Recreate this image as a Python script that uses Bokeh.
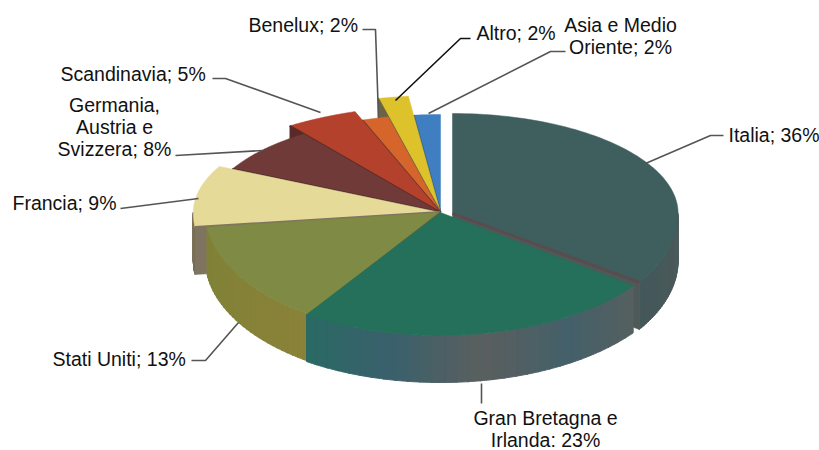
import numpy as np
from bokeh.plotting import figure
from bokeh.models import Range1d
from bokeh.core.properties import value
from bokeh.embed import file_html
from bokeh.resources import INLINE

# Data, clockwise from the top
categories = ["Italia", "Gran Bretagna e Irlanda", "Stati Uniti", "Francia",
              "Germania, Austria e Svizzera", "Scandinavia", "Benelux", "Altro",
              "Asia e Medio Oriente"]
shares = [36, 23, 13, 9, 8, 5, 2, 2, 2]
label_lines = [["Italia; 36%"], ["Gran Bretagna e", "Irlanda: 23%"], ["Stati Uniti; 13%"],
               ["Francia; 9%"], ["Germania,", "Austria e", "Svizzera; 8%"], ["Scandinavia; 5%"],
               ["Benelux; 2%"], ["Altro; 2%"], ["Asia e Medio", "Oriente; 2%"]]

# Styles
top_colors = ["#3E5F5E", "#24705A", "#7F8B45", "#E6DA98", "#6F3A38", "#B4412B", "#D6652C", "#DDC22B", "#3F7FC1"]
side_colors = [["#4E5A5A", "#44585A"], ["#55605F", "#44606A", "#5A5F5E", "#3A606C", "#2A6A64"],
               ["#8A8238", "#7F8238"], ["#7A7058", "#7A7058"], ["#4F2A2A", "#4F2A2A"], ["#6E2F26", "#6E2F26"],
               ["#6A3A2A", "#6A3A2A"], ["#6B6540", "#6B6540"], ["#2E5A85", "#2E5A85"]]
wall_colors = ["#4E5A5A", None, "#6E6040", "#7F7460", "#4A2A2A", "#5A2A28", "#5E3A30", "#6A6444", "#2E5A85"]
seam_colors = ["#5A4C4E", None, "#6E6040", "#7F7460", "#4A2A2A", "#5A2A28", "#5E3A30", "#6A6444", "#2E5A85"]
radius_x = [0.94, 1.0, 0.98, 1.03, 0.97, 1.07, 0.98, 1.17, 0.98]
radius_y = [1.0, 1.0, 1.0, 1.03, 0.97, 1.07, 0.98, 1.17, 0.98]
apex_x = [452, 440, 440, 440, 440, 440, 440, 440, 440]
apex_y = [213, 212, 212, 212, 212, 212, 212, 212, 212]
end_trim = [2.5, 0, 0, 0, 0, 0, 0, 0, 0]
draw_order = [8, 7, 6, 5, 4, 3, 2, 0, 1]
A, B_BACK, B_FRONT, DEPTH = 240, 100, 123, 47
warp_at = [0, 130, 212, 260, 292, 320, 338, 346, 353, 360]
warp_by = [0, -3, 1.5, 4, 5, 3.7, 2.2, 1.5, 0.6, 0]
STRIPS = 30

label_x = [728, 545, 52, 12, 114, 60, 248, 476, 620]
label_y = [134, 417, 358, 202, 104, 73, 24, 32, 24]
label_align = ["left", "center", "left", "left", "center", "left", "left", "left", "center"]
line_h = 22
leaders_x = [[645, 710, 723], [481, 481], [191, 205, 238], [120, 198], [175, 262], [212, 225, 320],
             [362, 375, 378], [470, 460, 395], [565, 550, 428]]
leaders_y = [[163, 135, 135], [383, 403], [360, 360, 322], [208, 198], [155, 150], [78, 78, 112],
             [29, 29, 117], [38, 38, 100], [51, 51, 113]]
leader_colors = ["#555555", "#555555", "#555555", "#555555", "#555555", "#555555", "#555555", "#111111", "#555555"]

p = figure(width=819, height=450, x_range=Range1d(0, 819), y_range=Range1d(450, 0),
           output_backend="svg", toolbar_location=None, min_border=0,
           background_fill_color="white", border_fill_color="white", outline_line_color=None)
p.xaxis.visible = False
p.yaxis.visible = False
p.grid.visible = False


def warp(t):
    return t + np.interp(t, warp_at, warp_by)


def rim(i, t):
    r = np.radians(t)
    c = np.cos(r)
    b = np.where(c >= 0, B_BACK, B_FRONT)
    return apex_x[i] + A * radius_x[i] * np.sin(r), apex_y[i] - b * radius_y[i] * c


def shade(stops, f):
    rgb = np.array([[int(s[j:j + 2], 16) for j in (1, 3, 5)] for s in stops], float)
    pos = np.linspace(0, 1, len(stops))
    return "#%02x%02x%02x" % tuple(int(round(np.interp(f, pos, rgb[:, c]))) for c in range(3))


cum = np.cumsum([0] + shares) * 3.6
for i in draw_order:
    t0, t1 = float(warp(cum[i])), float(warp(cum[i + 1])) - end_trim[i]
    s0, s1 = max(t0, 90), min(t1, 270)
    if s1 > s0:
        edges = np.linspace(s0, s1, STRIPS + 1)
        for k in range(STRIPS):
            c = shade(side_colors[i], (k + 0.5) / STRIPS)
            tt = np.linspace(edges[k], edges[k + 1] + (0.3 if k < STRIPS - 1 else 0), 8)
            x, y = rim(i, tt)
            p.patch(np.r_[x, x[::-1]], np.r_[y, y[::-1] + DEPTH], fill_color=c, line_color=c, line_width=1)
    t_edge = t1 if i == 0 else t0
    ex, ey = rim(i, np.array([t_edge]))
    if wall_colors[i]:
        p.patch([apex_x[i], ex[0], ex[0], apex_x[i]], [apex_y[i], ey[0], ey[0] + DEPTH, apex_y[i] + DEPTH],
                fill_color=wall_colors[i], line_color=wall_colors[i], line_width=0.5)
    tt = np.linspace(t0, t1, 80)
    x, y = rim(i, tt)
    p.patch(np.r_[apex_x[i], x], np.r_[apex_y[i], y], fill_color=top_colors[i], line_color=top_colors[i], line_width=0.5)
    if seam_colors[i]:
        p.line([apex_x[i], ex[0]], [apex_y[i], ey[0]], line_color=seam_colors[i], line_width=3 if i in (0, 3) else 2)

for xs, ys, c in zip(leaders_x, leaders_y, leader_colors):
    p.line(xs, ys, line_color=c, line_width=1.6)

for lines, x, y, al in zip(label_lines, label_x, label_y, label_align):
    for j, s in enumerate(lines):
        p.text([x], [y + j * line_h], text=[s], text_font=value("Liberation Sans"), text_font_size="19.5px",
               text_color="#111111", text_align=al, text_baseline="middle")

open("out.html", "w").write(file_html(p, INLINE))
